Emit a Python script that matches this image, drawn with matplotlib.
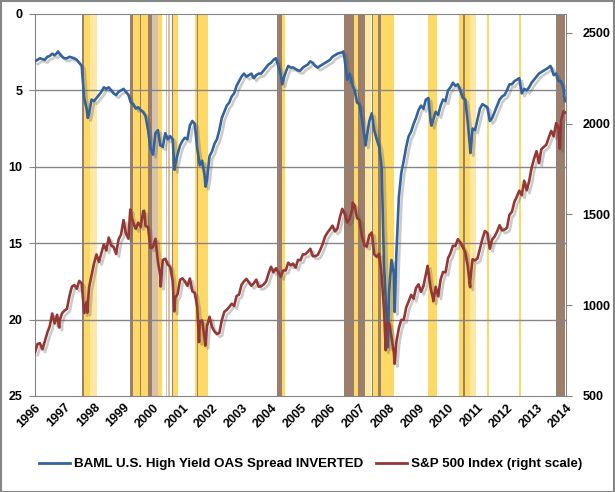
import numpy as np
import matplotlib
matplotlib.use("Agg")
import matplotlib.pyplot as plt
from matplotlib import patheffects as pe
from matplotlib.lines import Line2D
from matplotlib.patches import Rectangle

plt.rcParams["font.family"] = ["Liberation Sans", "DejaVu Sans"]

# 月末数据: 1996-12 .. 2014-12
hy_spread = [
    3.1,
    3.0, 2.9, 2.95, 3.0, 2.8, 2.75, 2.6, 2.7, 2.55, 2.6, 2.8, 2.9,
    2.9, 2.8, 2.85, 2.9, 3.0, 3.2, 3.4, 5.5, 6.2, 6.5, 5.6, 5.7,
    5.5, 5.3, 5.1, 4.8, 4.9, 4.8, 5.0, 5.2, 5.3, 5.1, 5.0, 4.9,
    5.1, 5.3, 5.8, 5.9, 6.2, 6.1, 6.3, 6.4, 6.7, 7.6, 8.8, 9.2,
    7.8, 7.6, 8.6, 8.7, 7.8, 8.2, 8.0, 8.2, 9.9, 9.2, 8.6, 8.3,
    8.1, 8.2, 7.3, 7.0, 7.2, 8.8, 9.9, 9.6, 10.6, 10.8, 9.3, 9.0,
    8.5, 8.2, 7.6, 6.8, 6.4, 6.0, 5.8, 5.4, 5.2, 4.7, 4.4, 4.1,
    3.9, 4.1, 4.0, 3.9, 4.2, 4.0, 3.9, 3.9, 3.7, 3.5, 3.3, 3.2,
    3.0, 2.9, 3.4, 4.0, 4.3, 3.8, 3.4, 3.5, 3.5, 3.6, 3.7, 3.7,
    3.5, 3.4, 3.3, 3.1, 3.2, 3.4, 3.5, 3.4, 3.3, 3.2, 3.1, 3.0,
    2.8, 2.7, 2.6, 2.55, 2.5, 3.0, 4.3, 3.9, 4.6, 5.0, 5.8, 5.9,
    6.9, 8.0, 8.0, 7.0, 6.5, 7.6, 8.2, 8.7, 10.0, 16.5, 19.8, 18.3,
    16.1, 17.0, 15.7, 12.0, 10.4, 9.6, 8.7, 8.0, 7.7, 7.2, 6.8, 6.3,
    6.0, 6.2, 5.6, 5.5, 7.1, 6.9, 6.4, 6.6, 6.0, 5.6, 5.7, 5.0,
    4.8, 4.5, 4.7, 4.6, 5.0, 5.5, 5.6, 7.0, 8.8, 7.5, 7.6, 6.9,
    6.2, 5.9, 6.0, 6.1, 7.0, 6.8, 6.4, 6.0, 5.6, 5.4, 5.3, 5.0,
    4.6, 4.6, 4.4, 4.3, 4.2, 5.2, 4.9, 5.0, 4.8, 4.5, 4.3, 4.1,
    3.9, 3.8, 3.7, 3.6, 3.5, 3.5, 4.0, 3.9, 4.4, 4.4, 4.9, 5.7,
]
sp500 = [
    740.74,
    786.16, 790.82, 757.12, 801.34, 848.28, 885.14, 954.29, 899.47, 947.28, 914.62, 955.40, 970.43,
    980.28, 1049.34, 1101.75, 1111.75, 1090.82, 1133.84, 1120.67, 957.28, 1017.01, 1098.67, 1163.63, 1229.23,
    1279.64, 1238.33, 1286.37, 1335.18, 1301.84, 1372.71, 1328.72, 1320.41, 1282.71, 1362.93, 1388.91, 1469.25,
    1394.46, 1366.42, 1498.58, 1452.43, 1420.60, 1454.60, 1430.83, 1517.68, 1436.51, 1429.40, 1314.95, 1320.28,
    1366.01, 1239.94, 1160.33, 1249.46, 1255.82, 1224.42, 1211.23, 1133.58, 1040.94, 1059.78, 1139.45, 1148.08,
    1130.20, 1106.73, 1147.39, 1076.92, 1067.14, 989.82, 911.62, 916.07, 815.28, 885.76, 936.31, 879.82,
    855.70, 841.15, 848.18, 916.92, 963.59, 974.50, 990.31, 1008.01, 995.97, 1050.71, 1058.20, 1111.92,
    1131.13, 1144.94, 1126.21, 1107.30, 1120.68, 1140.84, 1101.72, 1104.24, 1114.58, 1130.20, 1173.82, 1211.92,
    1181.27, 1203.60, 1180.59, 1156.85, 1191.50, 1191.33, 1234.18, 1220.33, 1228.81, 1207.01, 1249.48, 1248.29,
    1280.08, 1280.66, 1294.83, 1310.61, 1270.09, 1270.20, 1276.66, 1303.82, 1335.85, 1377.94, 1400.63, 1418.30,
    1438.24, 1406.82, 1420.86, 1482.37, 1530.62, 1503.35, 1455.27, 1473.99, 1526.75, 1549.38, 1481.14, 1468.36,
    1378.55, 1330.63, 1322.70, 1385.59, 1400.38, 1280.00, 1267.38, 1282.83, 1166.36, 968.75, 896.24, 903.25,
    825.88, 735.09, 797.87, 872.81, 919.14, 919.32, 987.48, 1020.62, 1057.08, 1036.19, 1095.63, 1115.10,
    1073.87, 1104.49, 1169.43, 1186.69, 1089.41, 1030.71, 1101.60, 1049.33, 1141.20, 1183.26, 1180.55, 1257.64,
    1286.12, 1327.22, 1325.83, 1363.61, 1345.20, 1320.64, 1292.28, 1218.89, 1131.42, 1253.30, 1246.96, 1257.60,
    1312.41, 1365.68, 1408.47, 1397.91, 1310.33, 1362.16, 1379.32, 1406.58, 1440.67, 1412.16, 1416.18, 1426.19,
    1498.11, 1514.68, 1569.19, 1597.57, 1630.74, 1606.28, 1685.73, 1632.97, 1681.55, 1756.54, 1805.81, 1848.36,
    1782.59, 1859.45, 1872.34, 1883.95, 1923.57, 1960.23, 1930.67, 2003.37, 1972.29, 2018.05, 2067.56, 2058.90,
]

# 月内极值点 (小数年份)
hy_extra_dates = [1997.78, 1998.79, 2001.73, 2002.78, 2005.38, 2007.45, 2008.20, 2008.96, 2009.19, 2010.44, 2011.76, 2014.47, 2014.96]
hy_extra_vals = [2.45, 6.8, 10.2, 11.3, 4.6, 2.45, 8.6, 21.8, 19.5, 7.3, 9.1, 3.4, 5.7]
sp_extra_dates = [1997.82, 1998.77, 2000.23, 2000.70, 2001.26, 2001.72, 2002.56, 2002.77, 2007.77, 2008.89, 2009.19, 2010.31, 2010.50, 2011.75, 2014.79]
sp_extra_vals = [877, 959, 1527, 1520, 1103, 966, 797, 777, 1565, 752, 677, 1217, 1022, 1099, 1862]

# 阴影区间: (开始, 结束, 类型)
band_start = [1998.59, 1998.66, 1998.86, 2000.21, 2000.32, 2000.55, 2000.59, 2000.82, 2000.96, 2001.16,
              2001.45, 2001.52, 2001.65, 2001.69, 2002.41, 2002.50, 2005.22, 2005.36,
              2007.49, 2007.83, 2007.96, 2008.20, 2008.44, 2008.47, 2008.64, 2008.74,
              2010.33, 2011.38, 2011.52, 2011.59, 2011.75, 2012.33, 2013.41, 2014.66]
band_end = [1998.66, 1998.86, 1999.10, 2000.32, 2000.55, 2000.59, 2000.82, 2000.96, 2001.16, 2001.30,
            2001.49, 2001.56, 2001.69, 2001.84, 2002.85, 2002.54, 2005.36, 2005.49,
            2007.83, 2007.96, 2008.17, 2008.40, 2008.47, 2008.64, 2008.74, 2009.18,
            2010.64, 2011.52, 2011.59, 2011.75, 2011.96, 2012.40, 2013.48, 2014.97]
band_kind = ["brown", "yellow", "light", "brown", "yellow", "brown", "yellow", "brown", "tan", "yellow",
             "tan", "tan", "brown", "yellow", "yellow", "brown", "brown", "yellow",
             "brown", "yellow", "brown", "light", "brown", "yellow", "brown", "yellow",
             "yellow", "yellow", "brown", "yellow", "light", "yellow", "yellow", "brown"]
band_colors = {"brown": "#9B7E6C", "yellow": "#FFD966", "light": "#FFE8A6", "tan": "#D9C3A8"}

year_ticks = list(range(1997, 2016))
year_labels = [str(y) for y in range(1996, 2015)]

BLUE = "#33629C"
RED = "#953735"


def merge(monthly, ex_d, ex_v):
    d = 1997.0 + np.arange(len(monthly)) / 12.0
    d = np.concatenate([d, ex_d])
    v = np.concatenate([monthly, ex_v])
    order = np.argsort(d)
    return d[order], v[order]


hy_d, hy_v = merge(hy_spread, hy_extra_dates, hy_extra_vals)
sp_d, sp_v = merge(sp500, sp_extra_dates, sp_extra_vals)

fig = plt.figure(figsize=(6.15, 4.92), dpi=100)
ax = fig.add_axes([35 / 615, 1 - 396 / 492, (566 - 35) / 615, (396 - 14) / 492])
ax2 = ax.twinx()

for s, e, k in zip(band_start, band_end, band_kind):
    ax.axvspan(s, e, color=band_colors[k], lw=0, zorder=0.5)

for g in [5, 10, 15, 20]:
    ax.axhline(g, color="#868686", lw=1.0, zorder=1)

shadow = [pe.SimpleLineShadow(offset=(2, -2), shadow_color="#555555", alpha=0.3), pe.Normal()]
ax.plot(hy_d, hy_v, color=BLUE, lw=1.9, zorder=3, path_effects=shadow)
ax2.plot(sp_d, sp_v, color=RED, lw=1.9, zorder=3, path_effects=shadow)

ax.set_xlim(1997.0, 2015.0)
ax.set_ylim(25, 0)
ax.set_yticks([0, 5, 10, 15, 20, 25])
ax2.set_ylim(500, 2604)
ax2.set_yticks([500, 1000, 1500, 2000, 2500])

ax.set_xticks(year_ticks)
ax.set_xticklabels(year_labels, rotation=45, ha="right", rotation_mode="anchor",
                   fontsize=9, fontweight="bold")
ax.tick_params(axis="x", length=0, pad=4)
ax.tick_params(axis="y", length=4, color="#868686", labelsize=9, pad=5)
ax2.tick_params(axis="y", length=4, color="#868686", labelsize=9, pad=8)
for lab in ax.get_yticklabels() + ax2.get_yticklabels():
    lab.set_fontweight("bold")

for a in (ax, ax2):
    for sp in a.spines.values():
        sp.set_visible(False)
for side in ("left", "bottom", "top"):
    ax.spines[side].set_visible(True)
    ax.spines[side].set_color("#868686")
ax2.spines["right"].set_visible(True)
ax2.spines["right"].set_color("#868686")

handles = [Line2D([], [], color=BLUE, lw=2), Line2D([], [], color=RED, lw=2)]
fig.legend(handles, ["BAML U.S. High Yield OAS Spread INVERTED", "S&P 500 Index (right scale)"],
           loc="center", bbox_to_anchor=(0.505, 1 - 464 / 492), ncol=2, frameon=False,
           prop={"size": 9.6, "weight": "bold"}, handlelength=2.3, handletextpad=0.3,
           columnspacing=1.0)

fig.patches.append(Rectangle((0.001, 0.001), 0.997, 0.997, transform=fig.transFigure,
                             fill=False, edgecolor="#868686", lw=1.5))

fig.savefig("out.png", dpi=100)
